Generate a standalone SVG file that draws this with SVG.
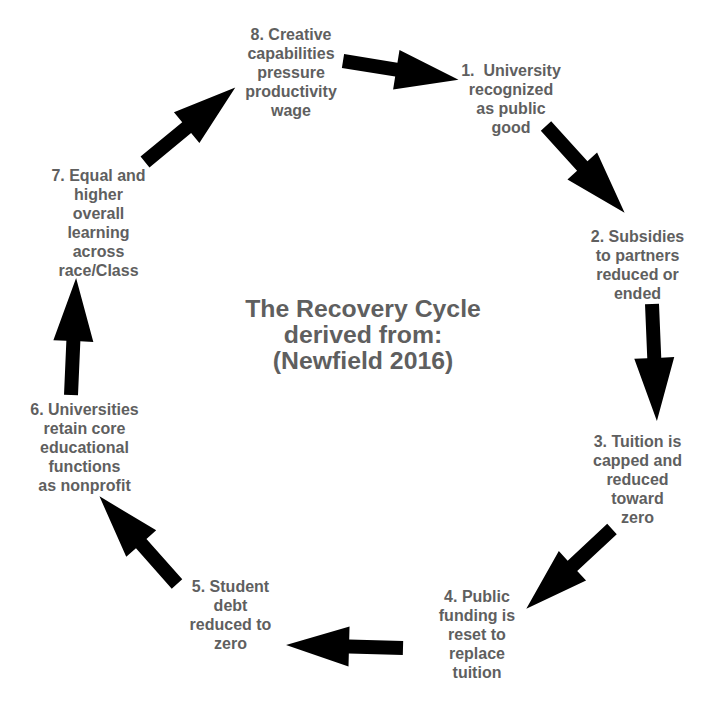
<svg xmlns="http://www.w3.org/2000/svg" xmlns:xlink="http://www.w3.org/1999/xlink" width="712" height="712" viewBox="0 0 712 712">
<style>
.t{font-family:"Liberation Sans",Arial,sans-serif;font-weight:bold;font-size:16px;fill:#5f5f5f;text-anchor:middle}
.title{font-family:"Liberation Sans",Arial,sans-serif;font-weight:bold;font-size:24.8px;fill:#5f5f5f;text-anchor:middle}
.a{fill:#000}
</style>
<defs>
<path id="arrow" d="M0,-7 H54 V-20 L117,0 L54,20 V7 H0 Z"/>
</defs>
<rect width="712" height="712" fill="#fff"/>
<g id="connectors">
<use xlink:href="#arrow" class="a" transform="translate(343,61) rotate(9.2)"/>
<use xlink:href="#arrow" class="a" transform="translate(546,126) rotate(47.8)"/>
<use xlink:href="#arrow" class="a" transform="translate(652,304) rotate(87.6)"/>
<use xlink:href="#arrow" class="a" transform="translate(612,529) rotate(137.1)"/>
<use xlink:href="#arrow" class="a" transform="translate(403,648) rotate(181.5)"/>
<use xlink:href="#arrow" class="a" transform="translate(177,584) rotate(-131.5)"/>
<use xlink:href="#arrow" class="a" transform="translate(71,395) rotate(-87.5)"/>
<use xlink:href="#arrow" class="a" transform="translate(145,162) rotate(-39.5)"/>
</g>
<g id="title">
<text class="title" x="363" y="317">The Recovery Cycle</text>
<text class="title" x="363" y="343">derived from:</text>
<text class="title" x="363" y="369">(Newfield 2016)</text>
</g>
<g id="node1">
<text class="t" x="511" y="76">1.&#160; University</text>
<text class="t" x="511" y="95">recognized</text>
<text class="t" x="511" y="114">as public</text>
<text class="t" x="511" y="133">good</text>
</g>
<g id="node2">
<text class="t" x="637.5" y="242">2. Subsidies</text>
<text class="t" x="637.5" y="261">to partners</text>
<text class="t" x="637.5" y="280">reduced or</text>
<text class="t" x="637.5" y="299">ended</text>
</g>
<g id="node3">
<text class="t" x="637.5" y="447">3. Tuition is</text>
<text class="t" x="637.5" y="466">capped and</text>
<text class="t" x="637.5" y="485">reduced</text>
<text class="t" x="637.5" y="504">toward</text>
<text class="t" x="637.5" y="523">zero</text>
</g>
<g id="node4">
<text class="t" x="477" y="602">4. Public</text>
<text class="t" x="477" y="621">funding is</text>
<text class="t" x="477" y="640">reset to</text>
<text class="t" x="477" y="659">replace</text>
<text class="t" x="477" y="678">tuition</text>
</g>
<g id="node5">
<text class="t" x="230.5" y="592">5. Student</text>
<text class="t" x="230.5" y="611">debt</text>
<text class="t" x="230.5" y="630">reduced to</text>
<text class="t" x="230.5" y="649">zero</text>
</g>
<g id="node6">
<text class="t" x="84.5" y="415">6. Universities</text>
<text class="t" x="84.5" y="434">retain core</text>
<text class="t" x="84.5" y="453">educational</text>
<text class="t" x="84.5" y="472">functions</text>
<text class="t" x="84.5" y="491">as nonprofit</text>
</g>
<g id="node7">
<text class="t" x="98.5" y="181">7. Equal and</text>
<text class="t" x="98.5" y="200">higher</text>
<text class="t" x="98.5" y="219">overall</text>
<text class="t" x="98.5" y="238">learning</text>
<text class="t" x="98.5" y="257">across</text>
<text class="t" x="98.5" y="276">race/Class</text>
</g>
<g id="node8">
<text class="t" x="291" y="40">8. Creative</text>
<text class="t" x="291" y="59">capabilities</text>
<text class="t" x="291" y="78">pressure</text>
<text class="t" x="291" y="97">productivity</text>
<text class="t" x="291" y="116">wage</text>
</g>
</svg>
